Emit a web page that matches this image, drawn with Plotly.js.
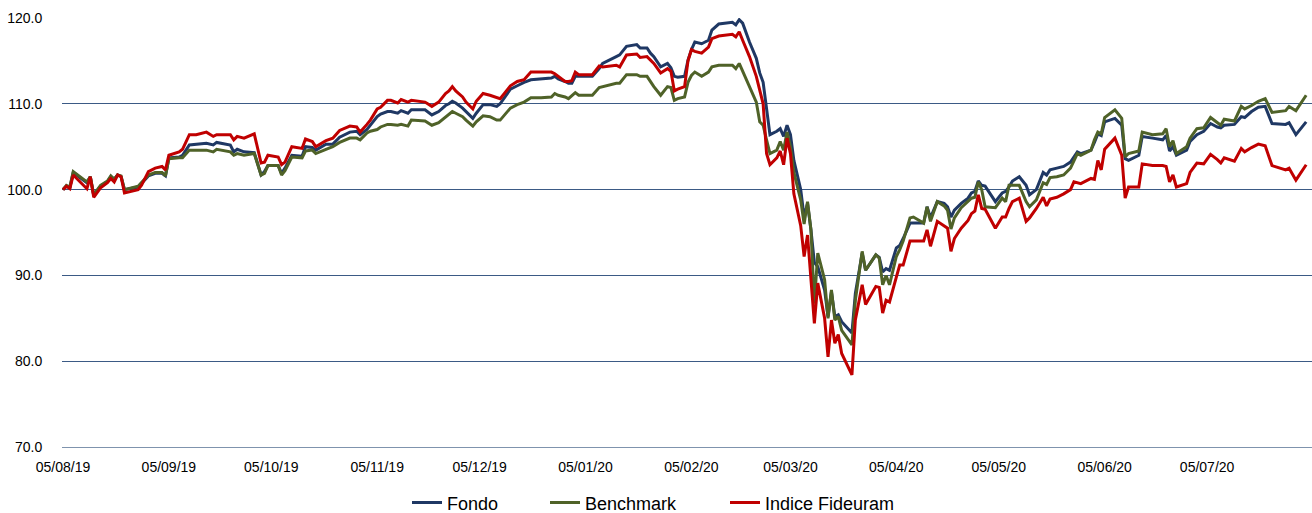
<!DOCTYPE html>
<html>
<head>
<meta charset="utf-8">
<script src="https://cdn.plot.ly/plotly-3.0.1.min.js"></script>
<style>
html,body{margin:0;padding:0;background:#fff;}
#chart{width:1312px;height:513px;}
</style>
</head>
<body>
<div id="chart"></div>
<script>
const dates = [
"2019-08-05","2019-08-06","2019-08-07","2019-08-08","2019-08-12","2019-08-13","2019-08-14","2019-08-16","2019-08-18","2019-08-19",
"2019-08-20","2019-08-21","2019-08-22","2019-08-23","2019-08-27","2019-08-28","2019-08-30","2019-09-01","2019-09-03","2019-09-04",
"2019-09-05","2019-09-08","2019-09-09","2019-09-11","2019-09-13","2019-09-16","2019-09-18","2019-09-19","2019-09-23","2019-09-24",
"2019-09-25","2019-09-27","2019-09-30","2019-10-02","2019-10-03","2019-10-04","2019-10-07","2019-10-08","2019-10-09","2019-10-11",
"2019-10-14","2019-10-15","2019-10-17","2019-10-18","2019-10-21","2019-10-23","2019-10-25","2019-10-28","2019-10-30","2019-10-31",
"2019-11-02","2019-11-03","2019-11-05","2019-11-06","2019-11-08","2019-11-09","2019-11-11","2019-11-12","2019-11-14","2019-11-15",
"2019-11-19","2019-11-21","2019-11-23","2019-11-25","2019-11-26","2019-11-27","2019-11-28","2019-11-30","2019-12-01","2019-12-03",
"2019-12-04","2019-12-06","2019-12-08","2019-12-10","2019-12-11","2019-12-13","2019-12-14","2019-12-16","2019-12-18","2019-12-20",
"2019-12-23","2019-12-26","2019-12-27","2019-12-28","2019-12-30","2019-12-31","2020-01-01","2020-01-02","2020-01-03","2020-01-07",
"2020-01-09","2020-01-10","2020-01-14","2020-01-15","2020-01-17","2020-01-20","2020-01-21","2020-01-23","2020-01-24","2020-01-25",
"2020-01-27","2020-01-29","2020-01-30","2020-01-31","2020-02-01","2020-02-03","2020-02-04","2020-02-05","2020-02-06","2020-02-08",
"2020-02-10","2020-02-11","2020-02-13","2020-02-17","2020-02-18","2020-02-19","2020-02-20","2020-02-22","2020-02-24","2020-02-25",
"2020-02-26","2020-02-27","2020-02-28","2020-03-01","2020-03-02","2020-03-03","2020-03-04","2020-03-05","2020-03-06","2020-03-08",
"2020-03-09","2020-03-10","2020-03-11","2020-03-12","2020-03-13","2020-03-15","2020-03-16","2020-03-17","2020-03-18","2020-03-19",
"2020-03-20","2020-03-23","2020-03-24","2020-03-26","2020-03-27","2020-03-30","2020-03-31","2020-04-01","2020-04-02","2020-04-03",
"2020-04-05","2020-04-06","2020-04-07","2020-04-09","2020-04-10","2020-04-13","2020-04-14","2020-04-15","2020-04-17","2020-04-19",
"2020-04-20","2020-04-21","2020-04-22","2020-04-24","2020-04-26","2020-04-27","2020-04-28","2020-04-29","2020-04-30","2020-05-01",
"2020-05-04","2020-05-06","2020-05-07","2020-05-08","2020-05-09","2020-05-11","2020-05-13","2020-05-14","2020-05-16","2020-05-18",
"2020-05-19","2020-05-20","2020-05-22","2020-05-24","2020-05-26","2020-05-27","2020-05-28","2020-05-29","2020-06-01","2020-06-02",
"2020-06-03","2020-06-04","2020-06-05","2020-06-08","2020-06-10","2020-06-11","2020-06-12","2020-06-15","2020-06-16","2020-06-19",
"2020-06-22","2020-06-23","2020-06-24","2020-06-25","2020-06-26","2020-06-29","2020-06-30","2020-07-02","2020-07-04","2020-07-06",
"2020-07-08","2020-07-09","2020-07-10","2020-07-13","2020-07-15","2020-07-16","2020-07-18","2020-07-20","2020-07-22","2020-07-24",
"2020-07-28","2020-07-29","2020-07-31","2020-08-03"
];

const fondo = [
100.0,100.4,100.2,102.0,100.8,101.5,99.3,100.4,100.9,101.5,
101.2,101.7,101.5,100.0,100.3,100.7,101.6,101.9,101.9,101.6,
103.7,103.8,104.0,105.2,105.3,105.4,105.2,105.5,105.2,104.4,
104.7,104.4,104.3,101.7,102.1,102.8,102.8,101.9,102.5,104.0,
103.9,105.0,104.9,104.6,105.3,105.3,106.1,106.7,106.8,106.4,
107.0,107.5,108.5,108.8,109.1,109.1,108.9,109.2,108.9,109.3,
109.3,108.7,109.1,109.8,110.0,110.3,110.1,109.5,109.1,108.3,
108.9,109.9,109.9,109.7,110.0,111.2,111.7,112.1,112.5,112.8,
112.9,113.0,113.2,112.9,112.6,112.4,112.4,113.2,113.2,113.2,
114.1,114.7,115.5,115.7,116.7,116.9,116.5,116.5,115.9,115.5,
114.3,114.7,114.2,113.2,113.1,113.2,115.1,116.3,117.2,117.0,
117.4,118.6,119.3,119.5,119.2,119.8,119.4,117.2,115.3,113.6,
112.5,109.7,106.4,106.8,107.1,106.2,107.5,106.4,103.4,100.0,
96.8,98.4,95.3,91.5,91.0,88.3,85.2,88.1,85.2,85.4,
84.6,83.3,87.9,92.6,90.6,92.4,92.1,90.4,90.8,90.6,
93.2,93.5,94.3,96.1,96.1,96.1,98.0,96.7,98.6,98.4,
98.0,96.8,97.6,98.4,99.0,99.6,99.8,101.0,100.5,100.4,
98.6,99.6,99.8,100.3,101.0,101.5,100.5,99.4,100.0,102.0,
101.7,102.3,102.5,102.7,103.2,103.8,104.4,104.2,104.6,105.5,
106.5,106.3,107.9,108.3,107.5,103.6,103.4,104.0,106.2,106.0,
105.8,106.3,104.5,105.0,104.0,104.6,105.6,106.4,106.8,107.7,
107.3,107.2,107.5,107.6,108.5,108.4,109.1,109.6,109.7,107.7,
107.6,107.8,106.4,107.9
];

const benchmark = [
100.0,100.5,100.3,102.1,100.9,101.5,99.4,100.5,101.0,101.6,
101.2,101.7,101.6,100.0,100.4,100.8,101.7,102.0,102.0,101.6,
103.6,103.7,103.7,104.6,104.6,104.6,104.4,104.7,104.4,104.0,
104.2,104.0,104.2,101.7,101.9,102.8,102.8,101.7,102.2,103.8,
103.7,104.5,104.6,104.2,104.7,105.0,105.5,106.0,106.0,105.8,
106.6,106.8,107.0,107.3,107.6,107.6,107.5,107.6,107.4,108.1,
108.0,107.5,107.8,108.4,108.8,109.1,108.9,108.5,108.1,107.4,
107.9,108.6,108.5,108.1,108.1,109.1,109.5,109.9,110.2,110.7,
110.7,110.8,111.2,111.0,110.8,110.6,110.9,111.3,111.0,111.0,
111.9,112.0,112.4,112.4,113.4,113.4,113.2,113.2,112.6,112.0,
111.0,112.0,111.9,110.4,110.6,110.8,112.5,113.3,113.7,113.2,
113.7,114.3,114.5,114.5,114.1,114.7,113.8,112.0,110.2,107.9,
107.5,105.8,104.2,104.6,105.6,104.6,106.7,105.0,102.0,98.8,
96.0,98.6,95.3,86.7,92.6,89.5,85.0,88.3,84.8,85.2,
83.6,81.9,87.1,92.8,90.6,92.4,92.0,88.9,90.0,88.9,
92.2,93.0,94.0,96.7,96.8,96.1,98.0,96.3,98.6,98.1,
97.6,95.4,96.7,97.9,98.7,99.0,99.1,100.9,100.0,98.0,
97.9,99.0,98.6,100.5,100.5,100.5,98.6,98.0,98.8,100.8,
100.6,101.4,101.5,101.7,102.5,103.3,104.2,104.0,104.6,105.8,
106.7,106.5,108.4,109.3,108.3,103.8,104.2,104.5,106.7,106.4,
106.5,107.1,105.0,105.7,104.2,105.0,106.0,107.1,107.2,108.4,
107.8,107.5,108.2,108.0,109.7,109.4,109.8,110.3,110.6,109.0,
109.2,109.7,109.2,111.0
];

const fideuram = [
100.0,100.4,100.1,101.7,100.1,101.5,99.1,100.2,100.8,101.3,
100.9,101.7,101.5,99.6,100.0,100.5,102.1,102.5,102.7,102.3,
104.0,104.4,104.7,106.4,106.4,106.7,106.2,106.4,106.4,105.8,
106.2,106.0,106.5,103.1,103.2,104.0,103.8,102.9,103.2,105.0,
104.8,105.9,105.6,105.0,105.7,106.0,106.9,107.4,107.3,106.7,
107.6,108.1,109.4,109.6,110.4,110.4,110.1,110.5,110.2,110.4,
110.2,109.7,110.2,111.2,111.5,112.0,111.5,110.8,110.2,109.4,
110.3,111.2,111.0,110.7,110.6,111.6,112.1,112.6,112.8,113.7,
113.7,113.7,113.5,113.2,112.6,112.6,112.7,113.7,113.4,113.4,
114.4,114.3,114.5,114.3,115.7,115.8,115.4,115.5,115.1,114.7,
113.6,114.1,113.8,111.5,111.7,112.0,115.0,116.3,116.1,115.9,
116.6,117.6,117.9,118.1,117.8,118.4,117.4,115.5,113.2,111.6,
110.0,104.2,102.9,103.7,104.5,102.9,106.0,104.2,99.5,95.8,
92.2,94.7,89.0,84.4,89.1,85.0,80.5,84.8,82.1,83.1,
80.9,78.4,84.8,88.9,86.6,88.7,88.6,85.6,87.1,86.9,
89.8,91.2,91.2,94.0,94.0,94.0,95.3,93.4,96.3,95.8,
95.5,92.8,94.3,95.5,96.4,97.2,97.5,99.4,97.8,97.7,
95.5,96.8,96.8,97.8,98.6,99.0,96.3,96.7,97.8,99.1,
98.1,98.9,99.1,99.5,100.0,100.9,100.8,100.7,101.3,101.2,
103.4,102.3,104.7,106.0,104.0,99.0,100.3,100.3,103.0,102.8,
102.8,102.7,100.9,101.7,100.3,100.7,102.0,103.1,103.0,104.1,
103.5,103.1,103.7,103.3,104.8,104.4,104.9,105.3,105.1,102.8,
102.3,102.5,101.1,102.9
];

const seriesNames = ["Fondo", "Benchmark", "Indice Fideuram"];
const yTickVals = [70, 80, 90, 100, 110, 120];

const colors = ["#1f3864", "#4f6228", "#c00000"];
const legendWidths = [93, 135, 185];
const allSeries = [fondo, benchmark, fideuram];

const traces = allSeries.map((vals, i) => ({
  type: "scatter",
  mode: "lines",
  x: dates,
  y: vals,
  name: seriesNames[i],
  legendwidth: legendWidths[i],
  line: {color: colors[i], width: 3},
  hoverinfo: "x+y+name"
}));

const layout = {
  width: 1312,
  height: 513,
  margin: {l: 62, r: 0, t: 18, b: 66, autoexpand: false},
  paper_bgcolor: "#ffffff",
  plot_bgcolor: "#ffffff",
  font: {family: "Liberation Sans, Arial, sans-serif", size: 14, color: "#000000"},
  showlegend: true,
  legend: {
    orientation: "h",
    x: (407 - 62) / 1250, xanchor: "left",
    y: -0.13, yanchor: "middle",
    font: {size: 18, color: "#000000"},
    itemwidth: 30,
    traceorder: "normal"
  },
  xaxis: {
    type: "date",
    range: ["2019-08-04 17:00", "2020-08-04 17:00"],
    tick0: "2019-08-05",
    dtick: "M1",
    tickformat: "%d/%m/%y",
    showgrid: false,
    zeroline: false,
    showline: true,
    linecolor: "#7f93ad",
    linewidth: 1,
    ticks: "outside",
    ticklen: 7,
    tickcolor: "rgba(0,0,0,0)",
    tickfont: {size: 14, color: "#000000"}
  },
  yaxis: {
    range: [70, 120],
    tickvals: yTickVals,
    tickformat: ".1f",
    showgrid: true,
    gridcolor: "#3b5a85",
    gridwidth: 1,
    zeroline: false,
    showline: false,
    ticks: "outside",
    ticklen: 16,
    tickcolor: "rgba(0,0,0,0)",
    tickfont: {size: 14, color: "#000000"}
  }
};

Plotly.newPlot("chart", traces, layout, {displayModeBar: false, staticPlot: true});
</script>
</body>
</html>
